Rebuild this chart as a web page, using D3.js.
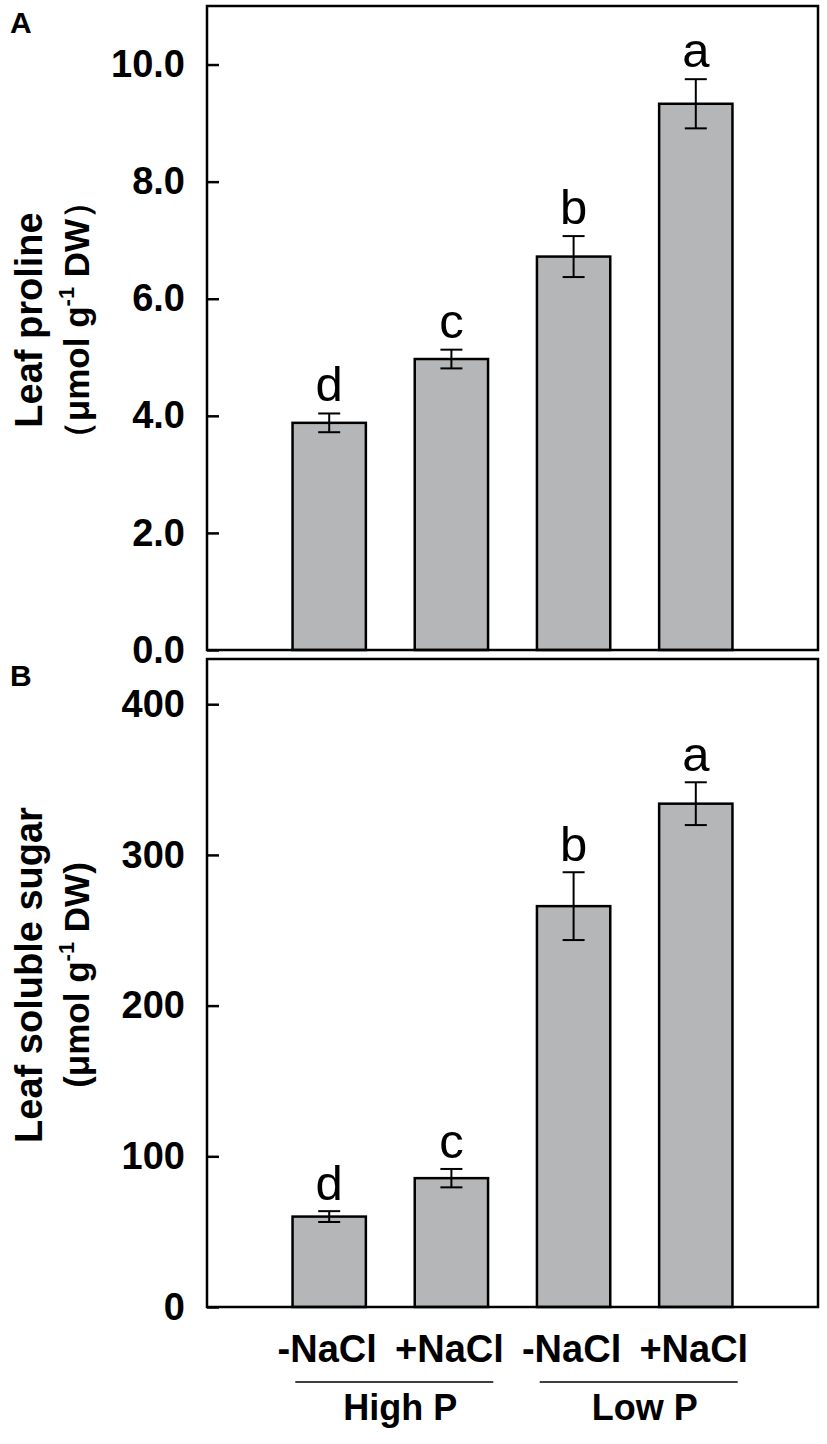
<!DOCTYPE html>
<html>
<head>
<meta charset="utf-8">
<script src="https://cdn.jsdelivr.net/npm/d3@7"></script>
<style>
  body { margin: 0; background: #fff; }
  svg { display: block; font-family: "Liberation Sans", Arial, sans-serif; }
</style>
</head>
<body>
<svg id="chart" width="827" height="1444"></svg>
<script>
// values
var treatments = ["-NaCl", "+NaCl", "-NaCl", "+NaCl"];
var groups = ["High P", "Low P"];
var letters = ["d", "c", "b", "a"];

var prolineMean = [3.88, 4.97, 6.72, 9.33];
var prolineErr = [0.16, 0.16, 0.35, 0.42];
var prolineTicks = [0, 2, 4, 6, 8, 10];

var sugarMean = [60, 85.5, 266, 334];
var sugarErr = [3.6, 6.1, 22.5, 14.2];
var sugarTicks = [0, 100, 200, 300, 400];

var svg = d3.select("#chart");
var left = 207, right = 818;
var barFill = "#b4b6b7";

var x = d3.scaleBand()
    .domain(d3.range(treatments.length))
    .range([left, right])
    .paddingInner(0.4)
    .paddingOuter(0.7);

function drawPanel(top, bottom, ymax, means, errs, ticks, fmt, label, title1, title2, letterGap) {
    var y = d3.scaleLinear().domain([0, ymax]).range([bottom, top]);
    var g = svg.append("g");

    // bars
    g.selectAll("rect.bar").data(means).enter().append("rect")
        .attr("class", "bar")
        .attr("x", function(d, i){ return x(i); })
        .attr("width", x.bandwidth())
        .attr("y", function(d){ return y(d); })
        .attr("height", function(d){ return y(0) - y(d); })
        .attr("fill", barFill)
        .attr("stroke", "#000")
        .attr("stroke-width", 2.5);

    // error bars
    var eb = g.selectAll("g.err").data(means).enter().append("g")
        .attr("stroke", "#000").attr("stroke-width", 2);
    eb.append("line")
        .attr("x1", function(d, i){ return x(i) + x.bandwidth() / 2; })
        .attr("x2", function(d, i){ return x(i) + x.bandwidth() / 2; })
        .attr("y1", function(d, i){ return y(d - errs[i]); })
        .attr("y2", function(d, i){ return y(d + errs[i]); });
    [1, -1].forEach(function(s){
        eb.append("line")
            .attr("x1", function(d, i){ return x(i) + x.bandwidth() / 2 - 11; })
            .attr("x2", function(d, i){ return x(i) + x.bandwidth() / 2 + 11; })
            .attr("y1", function(d, i){ return y(d + s * errs[i]); })
            .attr("y2", function(d, i){ return y(d + s * errs[i]); });
    });

    // significance letters
    g.selectAll("text.sig").data(means).enter().append("text")
        .attr("class", "sig")
        .attr("x", function(d, i){ return x(i) + x.bandwidth() / 2; })
        .attr("y", function(d, i){ return y(d + errs[i]) - letterGap; })
        .attr("text-anchor", "middle")
        .attr("font-size", 49)
        .text(function(d, i){ return letters[i]; });

    // y axis, ticks pointing in
    var ax = g.append("g")
        .attr("transform", "translate(" + left + ",0)")
        .call(d3.axisLeft(y).tickValues(ticks).tickFormat(d3.format(fmt))
            .tickSize(-12).tickPadding(22));
    ax.select(".domain").remove();
    ax.selectAll(".tick line").attr("stroke", "#000").attr("stroke-width", 2.5);
    ax.selectAll(".tick text")
        .attr("font-size", 38).attr("font-weight", "bold").attr("fill", "#000")
        .attr("font-family", "Liberation Sans, Arial, sans-serif");

    // frame
    g.append("rect")
        .attr("x", left).attr("y", top)
        .attr("width", right - left).attr("height", bottom - top)
        .attr("fill", "none").attr("stroke", "#000").attr("stroke-width", 2.5);

    // panel letter
    g.append("text")
        .attr("x", 10).attr("y", top + 27)
        .attr("font-size", 30).attr("font-weight", "bold")
        .text(label);

    // axis title, two lines
    var cy = (top + bottom) / 2 - 8;
    var t = g.append("text")
        .attr("transform", "translate(0," + cy + ") rotate(-90)")
        .attr("text-anchor", "middle")
        .attr("font-weight", "bold");
    t.append("tspan").attr("x", 0).attr("y", 42).attr("font-size", 38).text(title1);
    var t2 = t.append("tspan").attr("x", 0).attr("y", 89).attr("font-size", 35);
    t2.text(title2[0]);
    t.append("tspan").attr("font-size", 22).attr("dy", -15).text("-1");
    t.append("tspan").attr("font-size", 35).attr("dy", 15).text(title2[1]);
}

drawPanel(6, 650, 11, prolineMean, prolineErr, prolineTicks, ".1f", "A",
    "Leaf proline", ["\uFF08\u03BCmol g", " DW\uFF09"], 12);
drawPanel(659, 1307, 430, sugarMean, sugarErr, sugarTicks, "d", "B",
    "Leaf soluble sugar", ["(\u03BCmol g", " DW)"], 11);

// treatment labels
svg.selectAll("text.trt").data(treatments).enter().append("text")
    .attr("class", "trt")
    .attr("x", function(d, i){ return x(i) + x.bandwidth() / 2 - 2; })
    .attr("y", 1362)
    .attr("text-anchor", "middle")
    .attr("font-size", 38).attr("font-weight", "bold")
    .text(function(d){ return d; });

// group labels with rule above
groups.forEach(function(name, k){
    var a = x(2 * k), b = x(2 * k + 1) + x.bandwidth();
    var c = (a + b) / 2 + 4;
    svg.append("line")
        .attr("x1", c - 99).attr("x2", c + 99)
        .attr("y1", 1382).attr("y2", 1382)
        .attr("stroke", "#000").attr("stroke-width", 1.5);
    svg.append("text")
        .attr("x", c + 6).attr("y", 1420)
        .attr("text-anchor", "middle")
        .attr("font-size", 36).attr("font-weight", "bold")
        .text(name);
});
</script>
</body>
</html>
